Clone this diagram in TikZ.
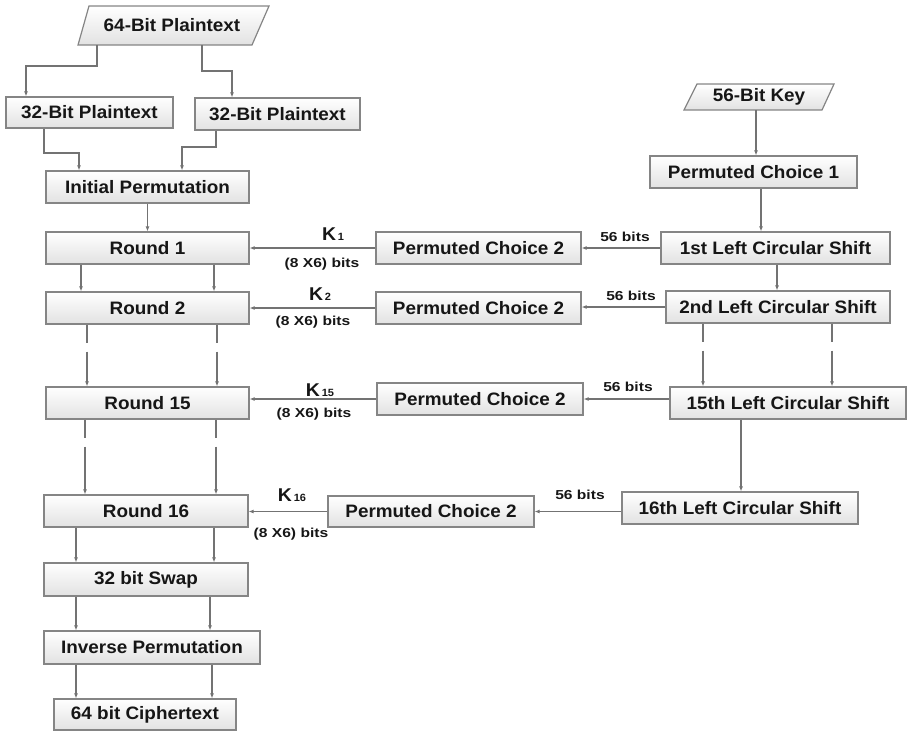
\documentclass[tikz,border=0pt]{standalone}
\usepackage{fontspec}
\setmainfont{Liberation Sans}
\newfontfamily\mainbf{Liberation Sans Bold}[FakeStretch=1.05]
\newfontfamily\lblbf{Liberation Sans Bold}[FakeStretch=1.2]
\usetikzlibrary{arrows.meta,calc}
\definecolor{edgegray}{HTML}{858585}
\definecolor{linegray}{HTML}{737373}
\definecolor{txt}{HTML}{161616}
\definecolor{boxbot}{HTML}{E2E2E2}
\tikzset{
  box/.style={draw=edgegray, line width=1.2pt, top color=white, bottom color=boxbot,
    minimum height=32pt, inner sep=0pt, text=txt, font=\mainbf\fontsize{18}{20}\selectfont},
  pshape/.style={draw=edgegray, line width=1.2pt, top color=white, bottom color=boxbot},
  ptext/.style={inner sep=0pt, text=txt, font=\mainbf\fontsize{18}{20}\selectfont},
  arr/.style={draw=linegray, line width=1.3pt, -{Latex[length=5pt,width=4pt]}},
  dasharr/.style={arr, dash pattern=on 18pt off 9pt on 300pt off 0pt},
  lbl/.style={text=txt, font=\lblbf\fontsize{13}{15}\selectfont, inner sep=0pt},
  klbl/.style={text=txt, font=\mainbf\fontsize{18.5}{20}\selectfont, inner sep=0pt},
}
\newcommand{\ksub}[1]{{\fontsize{10.5}{12}\selectfont\,#1}}
\begin{document}
\begin{tikzpicture}[x=1pt,y=-1pt]
\useasboundingbox (0,0) rectangle (907,731);

% parallelograms
\path[pshape] (78,45) -- (89,6) -- (269,6) -- (252,45) -- cycle;
\node[ptext, minimum width=174pt, minimum height=39pt] (pt) at (172,25.5) {64-Bit Plaintext};
\path[pshape] (684,110) -- (697,84) -- (834,84) -- (822,110) -- cycle;
\node[ptext, minimum width=138pt, minimum height=26pt] (key) at (759,97) {56-Bit Key};

% left column
\node[box, minimum width=167pt, minimum height=31pt] (l32) at (89.5,112.5) {32-Bit Plaintext};
\node[box, minimum width=165pt] (r32) at (277.5,114) {32-Bit Plaintext};
\node[box, minimum width=203pt] (ip) at (147.5,187) {Initial Permutation};
\node[box, minimum width=203pt] (r1) at (147.5,248) {Round 1};
\node[box, minimum width=203pt] (r2) at (147.5,308) {Round 2};
\node[box, minimum width=203pt] (r15) at (147.5,403) {Round 15};
\node[box, minimum width=204pt] (r16) at (146,511) {Round 16};
\node[box, minimum width=204pt, minimum height=33pt] (swap) at (146,579.5) {32 bit Swap};
\node[box, minimum width=216pt, minimum height=33pt] (inv) at (152,647.5) {Inverse Permutation};
\node[box, minimum width=182pt, minimum height=31pt] (ct) at (145,714.5) {64 bit Ciphertext};

% right column
\node[box, minimum width=207pt] (pc1) at (753.5,172) {Permuted Choice 1};
\node[box, minimum width=229pt] (s1) at (775.5,248) {1st Left Circular Shift};
\node[box, minimum width=224pt] (s2) at (778,307) {2nd Left Circular Shift};
\node[box, minimum width=236pt] (s15) at (788,403) {15th Left Circular Shift};
\node[box, minimum width=236pt] (s16) at (740,508) {16th Left Circular Shift};

% middle column
\node[box, minimum width=205pt] (pc2a) at (478.5,248) {Permuted Choice 2};
\node[box, minimum width=205pt] (pc2b) at (478.5,308) {Permuted Choice 2};
\node[box, minimum width=206pt] (pc2c) at (480,399) {Permuted Choice 2};
\node[box, minimum width=206pt, minimum height=31pt] (pc2d) at (431,511.5) {Permuted Choice 2};

% labels
\node[lbl] (b1) at (625,237) {56 bits};
\node[lbl] (b2) at (631,296) {56 bits};
\node[lbl] (b15) at (628,387) {56 bits};
\node[lbl] (b16) at (580,495) {56 bits};
\node[klbl] (k1) at (333,234) {K\ksub{1}};
\node[lbl] (x1) at (322,264) {(8 X6) bits};
\node[klbl] (k2) at (320,294) {K\ksub{2}};
\node[lbl] (x2) at (313,322) {(8 X6) bits};
\node[klbl] (k15) at (320,390) {K\ksub{15}};
\node[lbl] (x15) at (314,414) {(8 X6) bits};
\node[klbl] (k16) at (292,495) {K\ksub{16}};
\node[lbl] (x16) at (291,534) {(8 X6) bits};

% connectors: left column
\draw[arr] (97,0 |- pt.south) -- (97,66) -| (26,0 |- l32.north);
\draw[arr] (202,0 |- pt.south) -- (202,71) -| (232,0 |- r32.north);
\draw[arr] (44,0 |- l32.south) -- (44,153) -| (79,0 |- ip.north);
\draw[arr] (216,0 |- r32.south) -- (216,147) -| (182,0 |- ip.north);
\draw[arr] (ip.south) -- (r1.north);
\draw[arr] (81,0 |- r1.south) -- (81,0 |- r2.north);
\draw[arr] (214,0 |- r1.south) -- (214,0 |- r2.north);
\draw[dasharr] (87,0 |- r2.south) -- (87,0 |- r15.north);
\draw[dasharr] (217,0 |- r2.south) -- (217,0 |- r15.north);
\draw[dasharr] (85,0 |- r15.south) -- (85,0 |- r16.north);
\draw[dasharr] (216,0 |- r15.south) -- (216,0 |- r16.north);
\draw[arr] (76,0 |- r16.south) -- (76,0 |- swap.north);
\draw[arr] (214,0 |- r16.south) -- (214,0 |- swap.north);
\draw[arr] (76,0 |- swap.south) -- (76,0 |- inv.north);
\draw[arr] (210,0 |- swap.south) -- (210,0 |- inv.north);
\draw[arr] (76,0 |- inv.south) -- (76,0 |- ct.north);
\draw[arr] (212,0 |- inv.south) -- (212,0 |- ct.north);

% connectors: right column
\draw[arr] (756,0 |- key.south) -- (756,0 |- pc1.north);
\draw[arr] (761,0 |- pc1.south) -- (761,0 |- s1.north);
\draw[arr] (777,0 |- s1.south) -- (777,0 |- s2.north);
\draw[dasharr] (703,0 |- s2.south) -- (703,0 |- s15.north);
\draw[dasharr] (832,0 |- s2.south) -- (832,0 |- s15.north);
\draw[arr] (741,0 |- s15.south) -- (741,0 |- s16.north);

% connectors: rows
\draw[arr] (s1.west) -- (pc2a.east);
\draw[arr] (pc2a.west) -- (r1.east);
\draw[arr] (s2.west) -- (pc2b.east |- s2.west);
\draw[arr] (pc2b.west) -- (r2.east |- pc2b.west);
\draw[arr] (s15.west |- pc2c.west) -- (pc2c.east);
\draw[arr] (pc2c.west) -- (r15.east |- pc2c.west);
\draw[arr] (s16.west |- pc2d.west) -- (pc2d.east);
\draw[arr] (pc2d.west) -- (r16.east |- pc2d.west);
\end{tikzpicture}
\end{document}
